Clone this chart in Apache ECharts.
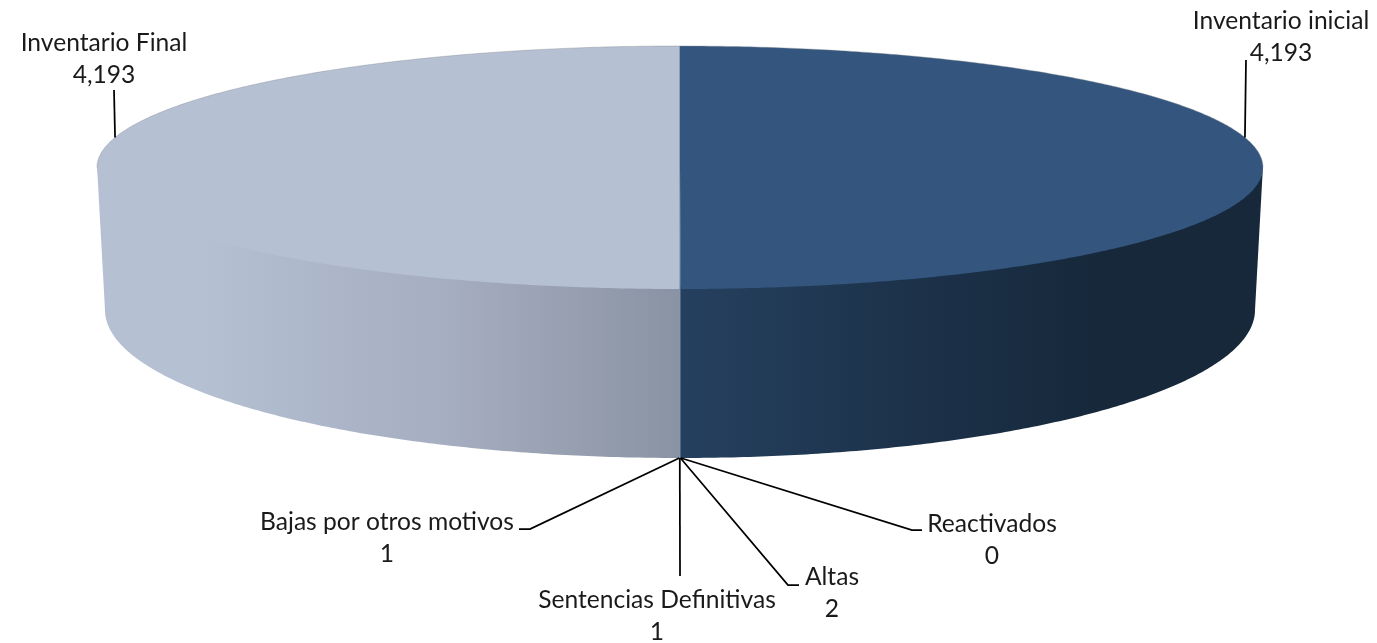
<!DOCTYPE html>
<html>
<head>
<meta charset="utf-8">
<style>html,body{margin:0;padding:0;background:#fff}#c{width:1377px;height:643px}</style>
<script src="https://cdn.jsdelivr.net/npm/echarts@6/dist/echarts.min.js"></script>
</head>
<body>
<div id="c"></div>
<script>
// Data (clockwise from 12 o'clock)
var categories = ['Inventario inicial', 'Reactivados', 'Altas', 'Sentencias Definitivas', 'Bajas por otros motivos', 'Inventario Final'];
var values = [4193, 0, 2, 1, 1, 4193];
var valueLabels = ['4,193', '0', '2', '1', '1', '4,193'];

// Presentation
var TOP = {cx: 680, cy: 167.5, rx: 583, ry: 121.5};
var UNDER = {cx: 680, cy: 165.5, rx: 583, ry: 121.5};
var BOTTOM = {cx: 680, cy: 310, rx: 575, ry: 148};
var FONT = 'Lato';
var LEFT_TOP = '#b5c0d3', RIGHT_TOP = '#33557e';
var leaderAnchor = [75.7, null, null, null, null, 284.3]; // degrees on the top rim; null: mid-angle on lower rim
var leaderVia = [[[1246, 60]], [[912, 530], [922, 530]], [[788, 585], [799, 585]], [[680, 576]], [[530, 529], [519, 529]], [[114, 90]]];
var labelCentre = [[1281, 37], [992, 540], [832, 593], [657, 616], [387, 538], [104, 59]];

var total = values.reduce(function (a, b) { return a + b; }, 0);
var starts = [];
values.reduce(function (acc, v, i) { starts[i] = acc; return acc + v; }, 0);
function rad(v) { return v / total * Math.PI * 2; }
function pt(e, t) { return [e.cx + e.rx * Math.sin(t), e.cy - e.ry * Math.cos(t)]; }
function arc(e, a, b) {
  var n = Math.max(2, Math.ceil(Math.abs(b - a) / 0.01)), out = [];
  for (var i = 0; i <= n; i++) out.push(pt(e, a + (b - a) * i / n));
  return out;
}
var data = categories.map(function (c, i) { return {name: c, value: [i, values[i]]}; });

function sideFill(i) {
  var mid = rad(starts[i] + values[i] / 2);
  if (mid < Math.PI) {
    return new echarts.graphic.LinearGradient(680, 0, 1110, 0, [
      {offset: 0, color: '#25405f'}, {offset: 0.5, color: '#1d334b'}, {offset: 1, color: '#16283a'}], true);
  }
  return new echarts.graphic.LinearGradient(200, 0, 680, 0, [
    {offset: 0, color: '#b5c0d3'}, {offset: 0.5, color: '#a6aec1'}, {offset: 1, color: '#8a93a3'}], true);
}
function topFill(i) { return rad(starts[i] + values[i] / 2) < Math.PI ? RIGHT_TOP : LEFT_TOP; }

function renderSide(params, api) {
  var i = api.value(0), a = rad(starts[i]), b = a + rad(api.value(1));
  var lo = Math.max(a, Math.PI / 2), hi = Math.min(b, Math.PI * 1.5);
  if (hi <= lo) return null;
  return {type: 'polygon', shape: {points: arc(UNDER, lo, hi).concat(arc(BOTTOM, hi, lo))},
    style: {fill: sideFill(i)}};
}
function renderTop(params, api) {
  var i = api.value(0), a = rad(starts[i]), b = a + rad(api.value(1));
  if (b <= a) return null;
  var children = [{type: 'polygon', shape: {points: [[TOP.cx, TOP.cy]].concat(arc(TOP, a, b))},
    style: {fill: topFill(i)}}];
  // soft grey rim along the far edge of the disc
  var rimLo = Math.max(a, Math.PI * 1.5), rimHi = b;
  if (a < Math.PI / 2) { rimLo = a; rimHi = Math.min(b, Math.PI / 2); }
  if (rimHi > rimLo) {
    children.push({type: 'polyline', shape: {points: arc(TOP, rimLo, rimHi)},
      style: {fill: null, stroke: 'rgba(135,140,148,0.4)', lineWidth: 1}});
  }
  // pale seam where two slices meet at the front
  if (b === Math.PI) {
    children.push({type: 'line', shape: {x1: pt(TOP, 0)[0], y1: pt(TOP, 0)[1], x2: pt(BOTTOM, b)[0], y2: pt(BOTTOM, b)[1]},
      style: {stroke: '#5f7c9f', lineWidth: 1}});
  }
  return {type: 'group', children: children};
}
function renderLabel(params, api) {
  var i = api.value(0);
  var start = leaderAnchor[i] !== null ? pt(TOP, leaderAnchor[i] * Math.PI / 180)
    : pt(BOTTOM, rad(starts[i] + api.value(1) / 2));
  return {type: 'group', children: [
    {type: 'polyline', shape: {points: [start].concat(leaderVia[i])},
      style: {fill: null, stroke: '#000', lineWidth: 1.75}},
    {type: 'text', x: labelCentre[i][0], y: labelCentre[i][1],
      style: {text: categories[i] + '\n' + valueLabels[i], font: '24.6px ' + FONT, fill: '#1a1a1a',
        align: 'center', verticalAlign: 'middle', lineHeight: 32}}
  ]};
}

var chart = echarts.init(document.getElementById('c'), null, {renderer: 'canvas'});
chart.setOption({
  animation: false,
  backgroundColor: '#fff',
  tooltip: {show: false},
  series: [
    {type: 'custom', coordinateSystem: 'none', renderItem: renderSide, data: data, z: 1, silent: true},
    {type: 'custom', coordinateSystem: 'none', renderItem: renderTop, data: data.slice().reverse(), z: 2, silent: true},
    {type: 'custom', coordinateSystem: 'none', renderItem: renderLabel, data: data, z: 3, silent: true}
  ]
});
</script>
</body>
</html>
